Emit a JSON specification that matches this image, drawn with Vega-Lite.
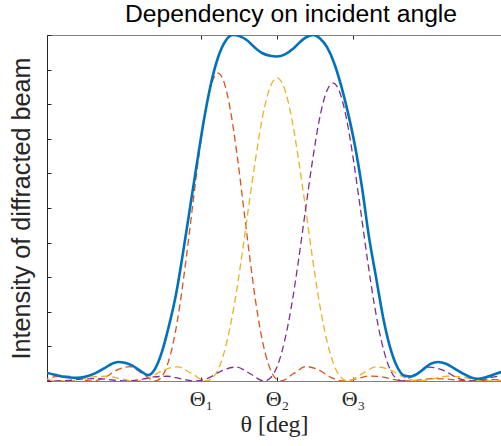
{
  "$schema": "https://vega.github.io/schema/vega-lite/v6.json",
  "width": 454,
  "height": 346,
  "autosize": {"type": "none"},
  "padding": {"left": 47, "top": 35, "right": 0, "bottom": 65},
  "background": "white",
  "config": {"view": {"stroke": null}},
  "title": {"text": "Dependency on incident angle", "font": "Liberation Sans", "fontSize": 24.7, "fontWeight": "normal", "color": "#000000", "offset": 8, "anchor": "middle", "dx": 17},
  "datasets": {
    "dash": [
      {"s":"A","x":-3.097,"y":0.0040},{"s":"A","x":-2.931,"y":0.0121},{"s":"A","x":-2.766,"y":0.0142},{"s":"A","x":-2.600,"y":0.0064},{"s":"A","x":-2.434,"y":0},{"s":"A","x":-2.268,"y":0.0096},{"s":"A","x":-2.102,"y":0.0319},{"s":"A","x":-1.937,"y":0.0417},{"s":"A","x":-1.771,"y":0.0216},{"s":"A","x":-1.605,"y":0},{"s":"A","x":-1.522,"y":0.0106},{"s":"A","x":-1.439,"y":0.0487},{"s":"A","x":-1.356,"y":0.120},{"s":"A","x":-1.273,"y":0.227},{"s":"A","x":-1.191,"y":0.361},{"s":"A","x":-1.108,"y":0.510},{"s":"A","x":-1.025,"y":0.656},{"s":"A","x":-0.942,"y":0.779},{"s":"A","x":-0.859,"y":0.861},{"s":"A","x":-0.776,"y":0.890},{"s":"A","x":-0.693,"y":0.861},{"s":"A","x":-0.610,"y":0.779},{"s":"A","x":-0.527,"y":0.656},{"s":"A","x":-0.444,"y":0.510},{"s":"A","x":-0.361,"y":0.361},{"s":"A","x":-0.279,"y":0.227},{"s":"A","x":-0.196,"y":0.120},{"s":"A","x":-0.113,"y":0.0487},{"s":"A","x":-0.030,"y":0.0106},{"s":"A","x":0.053,"y":0},{"s":"A","x":0.219,"y":0.0216},{"s":"A","x":0.385,"y":0.0417},{"s":"A","x":0.550,"y":0.0319},{"s":"A","x":0.716,"y":0.0096},{"s":"A","x":0.882,"y":0},{"s":"A","x":1.048,"y":0.0064},{"s":"A","x":1.214,"y":0.0142},{"s":"A","x":1.379,"y":0.0121},{"s":"A","x":1.545,"y":0.0040},{"s":"A","x":1.711,"y":0},{"s":"A","x":1.877,"y":0.0030},{"s":"A","x":2.043,"y":0.0070},{"s":"A","x":2.208,"y":0.0063},{"s":"A","x":2.374,"y":0.0021},{"s":"A","x":2.540,"y":0},{"s":"A","x":2.706,"y":0.0018},{"s":"A","x":2.872,"y":0.0042},{"s":"A","x":3.037,"y":0.0038},
      {"s":"B","x":-3.176,"y":0.0069},{"s":"B","x":-2.989,"y":0.0030},{"s":"B","x":-2.802,"y":0},{"s":"B","x":-2.615,"y":0.0039},{"s":"B","x":-2.428,"y":0.0119},{"s":"B","x":-2.242,"y":0.0139},{"s":"B","x":-2.055,"y":0.0063},{"s":"B","x":-1.868,"y":0},{"s":"B","x":-1.681,"y":0.0095},{"s":"B","x":-1.494,"y":0.0314},{"s":"B","x":-1.308,"y":0.0410},{"s":"B","x":-1.121,"y":0.0213},{"s":"B","x":-0.934,"y":0},{"s":"B","x":-0.841,"y":0.0104},{"s":"B","x":-0.747,"y":0.0479},{"s":"B","x":-0.654,"y":0.1185},{"s":"B","x":-0.560,"y":0.223},{"s":"B","x":-0.467,"y":0.355},{"s":"B","x":-0.374,"y":0.502},{"s":"B","x":-0.280,"y":0.645},{"s":"B","x":-0.187,"y":0.767},{"s":"B","x":-0.093,"y":0.848},{"s":"B","x":0,"y":0.876},{"s":"B","x":0.093,"y":0.848},{"s":"B","x":0.187,"y":0.767},{"s":"B","x":0.280,"y":0.645},{"s":"B","x":0.374,"y":0.502},{"s":"B","x":0.467,"y":0.355},{"s":"B","x":0.560,"y":0.223},{"s":"B","x":0.654,"y":0.1185},{"s":"B","x":0.747,"y":0.0479},{"s":"B","x":0.841,"y":0.0104},{"s":"B","x":0.934,"y":0},{"s":"B","x":1.121,"y":0.0213},{"s":"B","x":1.308,"y":0.0410},{"s":"B","x":1.494,"y":0.0314},{"s":"B","x":1.681,"y":0.0095},{"s":"B","x":1.868,"y":0},{"s":"B","x":2.055,"y":0.0063},{"s":"B","x":2.242,"y":0.0139},{"s":"B","x":2.428,"y":0.0119},{"s":"B","x":2.615,"y":0.0039},{"s":"B","x":2.802,"y":0},{"s":"B","x":2.989,"y":0.0030},{"s":"B","x":3.176,"y":0.0069},
      {"s":"C","x":-3.077,"y":0.0017},{"s":"C","x":-2.895,"y":0},{"s":"C","x":-2.713,"y":0.0021},{"s":"C","x":-2.532,"y":0.0061},{"s":"C","x":-2.350,"y":0.0068},{"s":"C","x":-2.169,"y":0.0029},{"s":"C","x":-1.987,"y":0},{"s":"C","x":-1.805,"y":0.0039},{"s":"C","x":-1.624,"y":0.0117},{"s":"C","x":-1.442,"y":0.0137},{"s":"C","x":-1.261,"y":0.0062},{"s":"C","x":-1.079,"y":0},{"s":"C","x":-0.897,"y":0.0093},{"s":"C","x":-0.716,"y":0.0308},{"s":"C","x":-0.534,"y":0.0403},{"s":"C","x":-0.353,"y":0.0209},{"s":"C","x":-0.171,"y":0},{"s":"C","x":-0.080,"y":0.0102},{"s":"C","x":0.011,"y":0.0471},{"s":"C","x":0.101,"y":0.1165},{"s":"C","x":0.192,"y":0.219},{"s":"C","x":0.283,"y":0.349},{"s":"C","x":0.374,"y":0.493},{"s":"C","x":0.465,"y":0.634},{"s":"C","x":0.555,"y":0.753},{"s":"C","x":0.646,"y":0.833},{"s":"C","x":0.737,"y":0.861},{"s":"C","x":0.828,"y":0.833},{"s":"C","x":0.919,"y":0.753},{"s":"C","x":1.009,"y":0.634},{"s":"C","x":1.100,"y":0.493},{"s":"C","x":1.191,"y":0.349},{"s":"C","x":1.282,"y":0.219},{"s":"C","x":1.373,"y":0.1165},{"s":"C","x":1.463,"y":0.0471},{"s":"C","x":1.554,"y":0.0102},{"s":"C","x":1.645,"y":0},{"s":"C","x":1.827,"y":0.0209},{"s":"C","x":2.008,"y":0.0403},{"s":"C","x":2.190,"y":0.0308},{"s":"C","x":2.371,"y":0.0093},{"s":"C","x":2.553,"y":0},{"s":"C","x":2.735,"y":0.0062},{"s":"C","x":2.916,"y":0.0137},{"s":"C","x":3.098,"y":0.0117}
    ],
    "total": [
      {"x":-3.118,"y":0.026},{"x":-3.026,"y":0.023},{"x":-2.921,"y":0.018},{"x":-2.829,"y":0.013},{"x":-2.724,"y":0.010},{"x":-2.632,"y":0.009},{"x":-2.526,"y":0.012},{"x":-2.395,"y":0.022},{"x":-2.263,"y":0.038},{"x":-2.171,"y":0.050},{"x":-2.092,"y":0.055},{"x":-2.000,"y":0.053},{"x":-1.908,"y":0.045},{"x":-1.803,"y":0.030},{"x":-1.697,"y":0.017},{"x":-1.605,"y":0.035},{"x":-1.513,"y":0.085},{"x":-1.421,"y":0.160},{"x":-1.329,"y":0.250},{"x":-1.237,"y":0.370},{"x":-1.145,"y":0.500},{"x":-1.053,"y":0.630},{"x":-0.961,"y":0.755},{"x":-0.868,"y":0.860},{"x":-0.776,"y":0.935},{"x":-0.671,"y":0.985},{"x":-0.579,"y":1.000},{"x":-0.487,"y":0.996},{"x":-0.395,"y":0.985},{"x":-0.303,"y":0.966},{"x":-0.197,"y":0.948},{"x":-0.092,"y":0.940},{"x":0,"y":0.938},{"x":0.105,"y":0.944},{"x":0.211,"y":0.960},{"x":0.303,"y":0.980},{"x":0.395,"y":0.995},{"x":0.474,"y":1.000},{"x":0.566,"y":0.990},{"x":0.658,"y":0.965},{"x":0.750,"y":0.920},{"x":0.842,"y":0.855},{"x":0.934,"y":0.775},{"x":1.026,"y":0.680},{"x":1.118,"y":0.560},{"x":1.211,"y":0.415},{"x":1.303,"y":0.300},{"x":1.395,"y":0.185},{"x":1.487,"y":0.098},{"x":1.579,"y":0.042},{"x":1.671,"y":0.016},{"x":1.763,"y":0.013},{"x":1.855,"y":0.022},{"x":1.947,"y":0.038},{"x":2.026,"y":0.050},{"x":2.118,"y":0.055},{"x":2.224,"y":0.050},{"x":2.342,"y":0.035},{"x":2.461,"y":0.020},{"x":2.553,"y":0.010},{"x":2.632,"y":0.006},{"x":2.737,"y":0.010},{"x":2.842,"y":0.018},{"x":2.947,"y":0.026},{"x":3.066,"y":0.035}
    ]
  },
  "layer": [
    {
      "data": {"name": "dash"},
      "mark": {"type": "line", "strokeDash": [7, 4], "strokeWidth": 1.3, "interpolate": "monotone", "clip": true},
      "encoding": {
        "x": {"field": "x", "type": "quantitative", "scale": {"domain": [-3.026, 2.947], "nice": false, "zero": false},
          "axis": {"orient": "bottom", "values": [-1, 0, 1], "labelExpr": "datum.value == -1 ? 'Θ₁' : datum.value == 0 ? 'Θ₂' : 'Θ₃'", "labelFont": "Liberation Serif, DejaVu Serif", "labelFontSize": 22, "labelColor": "#262626", "labelPadding": 11, "tickSize": -4, "tickColor": "#262626", "domainColor": "#808080", "grid": false, "title": "θ [deg]", "titleFont": "Liberation Serif, DejaVu Serif", "titleFontSize": 24, "titleFontWeight": "normal", "titleColor": "#262626", "titlePadding": 3}},
        "y": {"field": "y", "type": "quantitative", "scale": {"domain": [0, 1], "nice": false},
          "axis": {"values": [0, 0.1, 0.2, 0.3, 0.4, 0.5, 0.6, 0.7, 0.8, 0.9, 1], "tickCount": 11, "labels": false, "tickSize": -4, "tickColor": "#262626", "domainColor": "#262626", "grid": false, "title": "Intensity of diffracted beam", "titleFont": "Liberation Sans", "titleFontSize": 25.2, "titleFontWeight": "normal", "titleColor": "#262626", "titlePadding": 12}},
        "color": {"field": "s", "type": "nominal", "scale": {"domain": ["A", "B", "C"], "range": ["#D95319", "#EDB120", "#7E2F8E"]}, "legend": null}
      }
    },
    {
      "data": {"name": "total"},
      "mark": {"type": "line", "color": "#0072BD", "strokeWidth": 2.6, "interpolate": "monotone", "clip": true},
      "encoding": {
        "x": {"field": "x", "type": "quantitative", "scale": {"domain": [-3.026, 2.947], "nice": false, "zero": false},
          "axis": {"orient": "top", "values": [-1, 0, 1], "labels": false, "tickSize": -4, "tickColor": "#262626", "domainColor": "#808080", "grid": false, "title": null}},
        "y": {"field": "y", "type": "quantitative",
          "axis": {"values": [0, 0.1, 0.2, 0.3, 0.4, 0.5, 0.6, 0.7, 0.8, 0.9, 1], "tickCount": 11, "labels": false, "tickSize": -4, "tickColor": "#262626", "domainColor": "#262626", "grid": false, "title": "Intensity of diffracted beam", "titleFont": "Liberation Sans", "titleFontSize": 25.2, "titleFontWeight": "normal", "titleColor": "#262626", "titlePadding": 12}}
      }
    }
  ],
  "resolve": {"axis": {"x": "independent"}}
}
